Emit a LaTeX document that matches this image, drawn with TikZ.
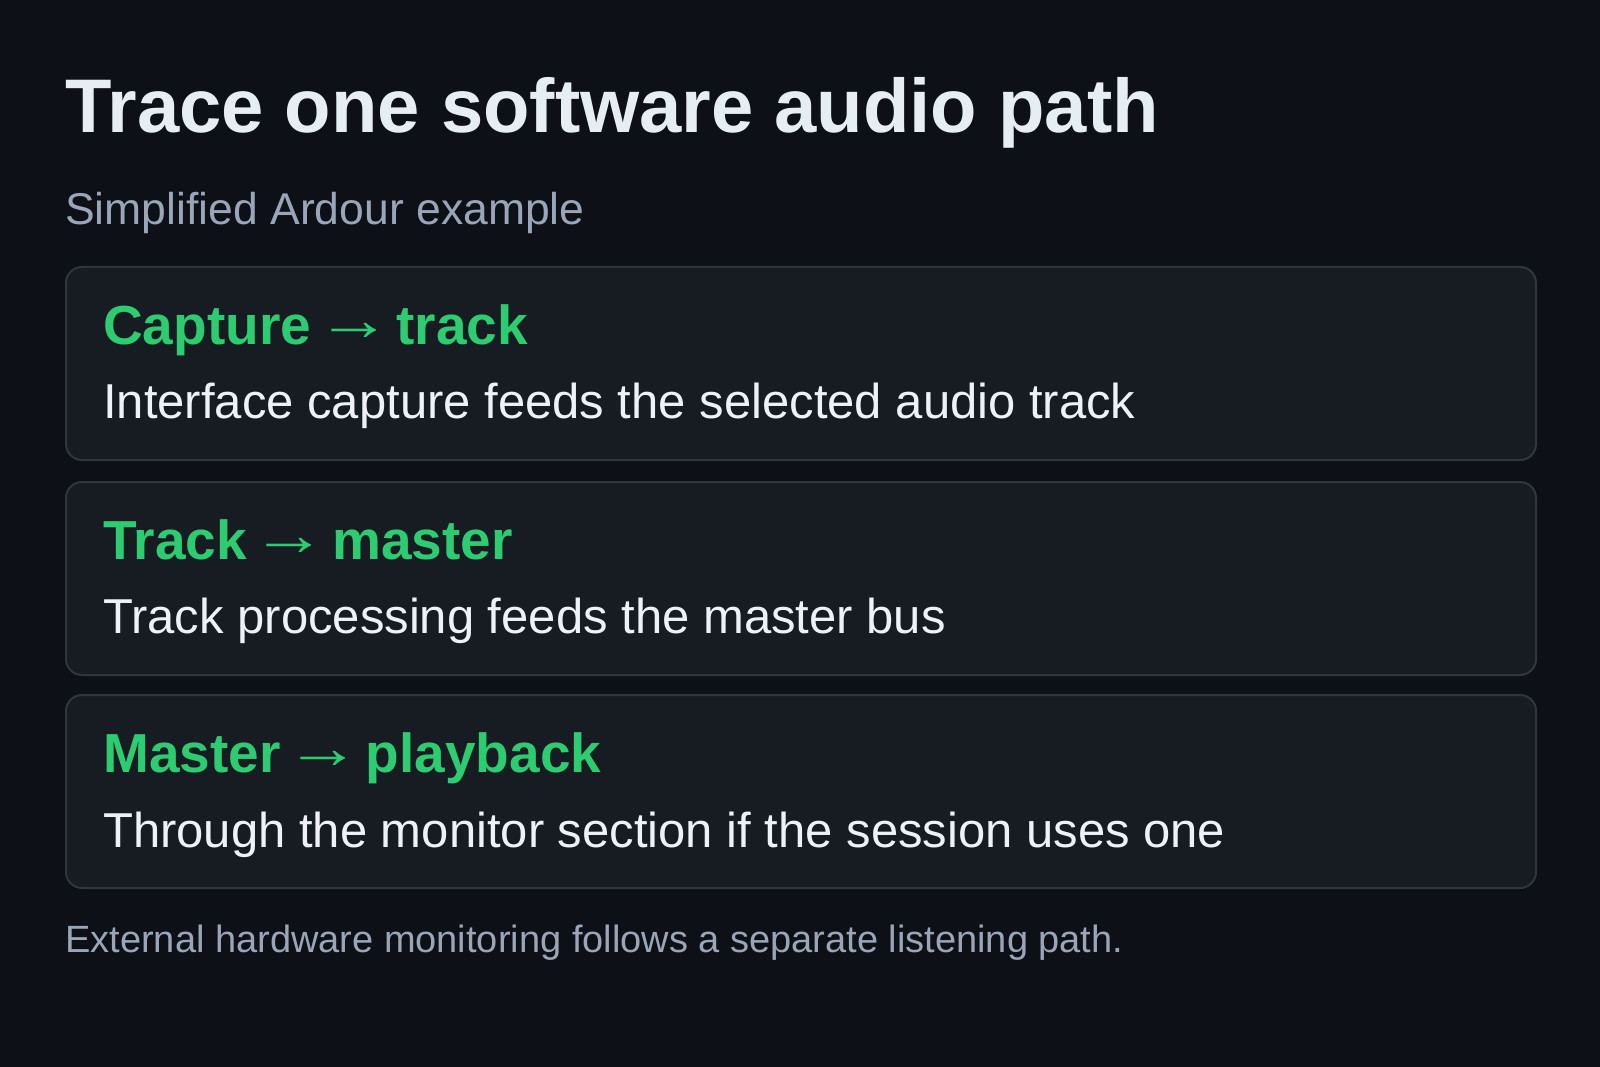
\documentclass[tikz,border=0pt]{standalone}
\usepackage{graphicx}
\usepackage{fontspec}
\setmainfont{Liberation Sans}
\definecolor{bgdark}{HTML}{0D1017}
\definecolor{cardfill}{HTML}{171B22}
\definecolor{cardline}{HTML}{30363D}
\definecolor{titletext}{HTML}{E6EDF3}
\definecolor{subtext}{HTML}{9AA5B8}
\definecolor{bodytext}{HTML}{EEF2F8}
\definecolor{accent}{HTML}{2ECC71}
\newcommand{\flowarrow}{\hspace{5pt}\raisebox{4pt}{\scalebox{1.37}[1.1]{→}}\hspace{5pt}}

\begin{document}
\begin{tikzpicture}[x=1pt, y=-1pt,
		card/.style={rectangle, rounded corners=16pt, draw=cardline, fill=cardfill, line width=2pt, minimum width=1470pt, minimum height=193pt, anchor=north west, inner sep=0pt},
		heading/.style={anchor=base west, inner sep=0pt, text=accent, font=\bfseries\fontsize{55}{64}\selectfont},
		body/.style={anchor=base west, inner sep=0pt, text=bodytext, font=\fontsize{49}{58}\selectfont},
		title/.style={anchor=base west, inner sep=0pt, text=titletext, font=\bfseries\fontsize{76}{90}\selectfont},
		note/.style={anchor=base west, inner sep=0pt, text=subtext}]
		\fill[bgdark] (0,0) rectangle (1600,1067);
		\useasboundingbox (0,0) rectangle (1600,1067);
		
		\node[title] (head) at (65,133) {Trace one software audio path};
		\node[note, font=\fontsize{44.5}{52}\selectfont] (sub) at (65,225) {Simplified Ardour example};
		
		\node[card] (c1) at (65,266) {};
		\node[card] (c2) at (65,481) {};
		\node[card] (c3) at (65,694) {};
		
		\node[heading] (h1) at (103,344) {Capture\flowarrow track};
		\node[body] (b1) at (103,418) {Interface capture feeds the selected audio track};
		\node[heading] (h2) at (103,559) {Track\flowarrow master};
		\node[body] (b2) at (103,633) {Track processing feeds the master bus};
		\node[heading] (h3) at (103,772) {Master\flowarrow playback};
		\node[body] (b3) at (103,847) {Through the monitor section if the session uses one};
		
		\node[note, font=\fontsize{38}{46}\selectfont] (foot) at (65,952) {External hardware monitoring follows a separate listening path.};
		
	\end{tikzpicture}
\end{document}
